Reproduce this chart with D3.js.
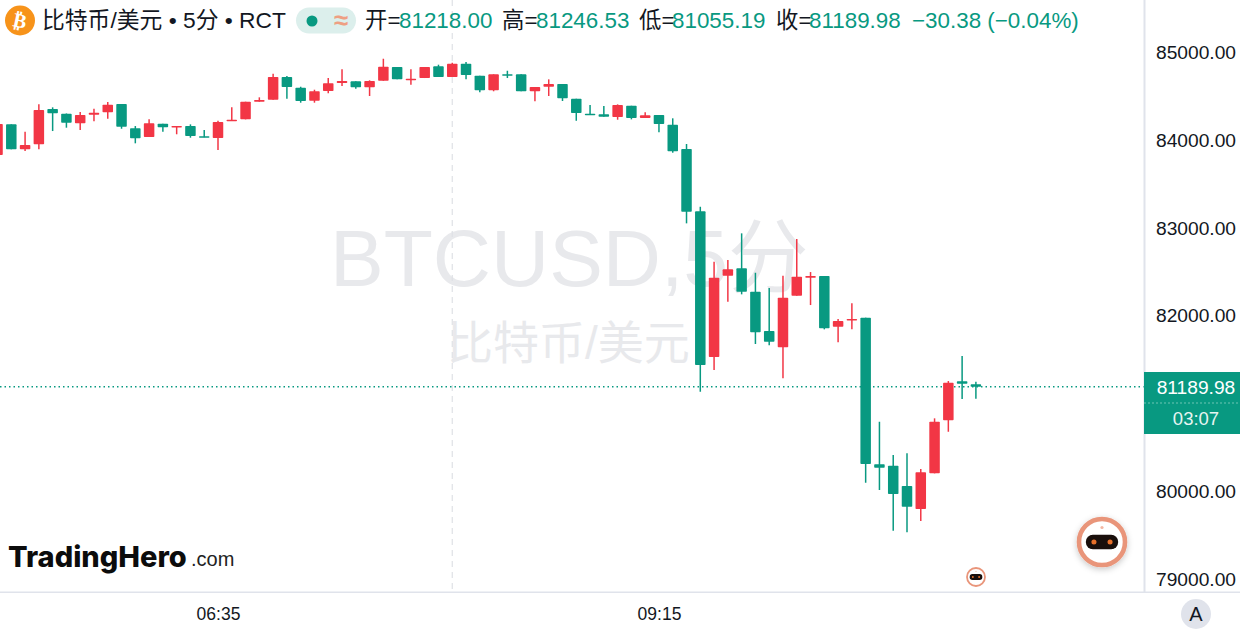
<!DOCTYPE html>
<html>
<head>
<meta charset="utf-8">
<title>BTCUSD</title>
<script src="https://cdn.jsdelivr.net/npm/d3@7"></script>
<style>
  html, body { margin: 0; padding: 0; background: #fff; overflow: hidden; }
  text { font-family: "Liberation Sans", "Noto Sans CJK SC", sans-serif; }
  .axis path, .axis line { display: none; }
  .axis text { font-family: "Liberation Sans", sans-serif; fill: #131722; }
</style>
</head>
<body>
<script>
// values, one entry per 5 minute bar starting 05:15
const opens = [83832,84181,83897,83954,84356,84302,84193,84291,84318,84413,84136,84037,84188,84147,84162,84045,84025,84222,84238,84439,84462,84721,84599,84450,84561,84652,84671,84603,84678,84834,84683,84709,84842,84721,84872,84735,84569,84751,84751,84558,84610,84641,84473,84302,84295,84265,84393,84253,84287,84177,83900,83190,81530,82456,82540,82274,81826,81640,82228,82433,82453,81875,81948,81978,80307,80291,80060,79797,80204,80808,81253,81218.00];
const highs = [84190,84181,84097,84409,84375,84305,84322,84359,84436,84413,84162,84238,84188,84162,84181,84116,84222,84375,84439,84489,84758,84732,84610,84576,84709,84808,84671,84683,84929,84834,84808,84834,84861,84883,84891,84735,84751,84792,84751,84607,84694,84641,84473,84401,84390,84409,84393,84318,84287,84250,83957,83242,82616,82635,82939,82490,82316,82456,82874,82498,82453,81963,82142,81978,80792,80413,80432,80253,80831,81256,81541,81246.53];
const lows = [83825,83897,83877,83897,84105,84143,84116,84216,84245,84131,83965,84037,84097,84068,84029,84033,83889,84222,84238,84439,84462,84473,84428,84428,84535,84618,84587,84504,84678,84694,84633,84709,84721,84721,84694,84546,84558,84709,84558,84444,84504,84447,84222,84291,84268,84234,84238,84253,84090,83858,83053,81134,81382,82160,82244,81678,81663,81287,82228,82122,81845,81697,81845,80097,80014,79550,79532,79661,80204,80678,81051,81055.19];
const closes = [84185,83897,83946,84344,84307,84200,84287,84314,84405,84154,84022,84193,84147,84162,84048,84033,84208,84234,84439,84458,84721,84607,84447,84558,84649,84675,84603,84675,84838,84694,84701,84834,84721,84872,84743,84569,84751,84735,84558,84607,84641,84478,84310,84291,84268,84401,84253,84284,84185,83874,83186,81438,82433,82529,82274,81811,81704,82206,82445,82453,81857,81940,81963,80310,80268,79968,79824,80216,80792,81237,81225,81189.98];

// 81000 is hidden by the price tag in the picture
const priceTicks = [85000, 84000, 83000, 82000, 80000, 79000];
const timeTicks = ["06:35", "09:15"];
const lastPrice = 81189.98;
const countdown = "03:07";
const crosshairBar = 33;

const w = 1240;
const h = 635;
const plotW = 1144;
const plotH = 592;
const green = "#089981";
const red = "#F23645";
const barWidth = 10.5;

const parseTime = d3.timeParse("%H:%M");
const start = parseTime("05:15");
const times = opens.map((d, i) => d3.timeMinute.offset(start, i * 5));

const x = d3.scaleTime()
  .domain([start, times[times.length - 1]])
  .range([-2.48, 975.9]);
const y = d3.scaleLinear()
  .domain([85000, 79000])
  .range([52.5, 579]);

const svg = d3.select("body").append("svg")
  .attr("width", w)
  .attr("height", h)
  .style("display", "block");

const defs = svg.append("defs");
const blur = defs.append("filter").attr("id", "soft").attr("x", "-30%").attr("y", "-30%").attr("width", "160%").attr("height", "160%");
blur.append("feDropShadow").attr("dx", 0).attr("dy", 2).attr("stdDeviation", 3).attr("flood-color", "#000").attr("flood-opacity", 0.22);

// watermark sits behind everything
svg.append("text").attr("x", 330).attr("y", 286)
  .attr("font-size", 80.5).attr("fill", "#e8e9ec")
  .text("BTCUSD,5分");
svg.append("text").attr("x", 447).attr("y", 359)
  .attr("font-size", 46).attr("fill", "#e8e9ec")
  .text("比特币/美元");

// crosshair
svg.append("line")
  .attr("x1", x(times[crosshairBar])).attr("x2", x(times[crosshairBar]))
  .attr("y1", 0).attr("y2", plotH)
  .attr("stroke", "#dfe1e6").attr("stroke-width", 1.2).attr("stroke-dasharray", "6 5");

// last price line
svg.append("line")
  .attr("x1", 0).attr("x2", plotW)
  .attr("y1", y(lastPrice)).attr("y2", y(lastPrice))
  .attr("stroke", green).attr("stroke-width", 1.5).attr("stroke-dasharray", "1.5 3");

// candles
const candles = svg.append("g").selectAll("g")
  .data(times)
  .join("g")
  .attr("fill", (d, i) => closes[i] >= opens[i] ? red : green)
  .attr("stroke", (d, i) => closes[i] >= opens[i] ? red : green);

candles.append("line")
  .attr("x1", d => x(d)).attr("x2", d => x(d))
  .attr("y1", (d, i) => y(highs[i]))
  .attr("y2", (d, i) => y(lows[i]))
  .attr("stroke-width", 1.5);

candles.append("rect")
  .attr("x", d => x(d) - barWidth / 2)
  .attr("width", barWidth)
  .attr("y", (d, i) => y(Math.max(opens[i], closes[i])))
  .attr("height", (d, i) => Math.max(1.5, Math.abs(y(opens[i]) - y(closes[i]))))
  .attr("rx", 0.8)
  .attr("stroke", "none");

// axes frame
svg.append("rect").attr("x", plotW - 0.5).attr("y", 0).attr("width", 2).attr("height", plotH).attr("fill", "#e0e3eb");
svg.append("rect").attr("x", 0).attr("y", plotH - 0.5).attr("width", w).attr("height", 1.5).attr("fill", "#e0e3eb");

const yAxis = d3.axisRight(y)
  .tickValues(priceTicks)
  .tickSize(0)
  .tickPadding(0)
  .tickFormat(d => d.toFixed(2));
svg.append("g")
  .attr("class", "axis")
  .attr("transform", "translate(1156,0)")
  .call(yAxis)
  .selectAll("text").attr("font-size", 19.2);

const xAxis = d3.axisBottom(x)
  .tickValues(timeTicks.map(parseTime))
  .tickSize(0)
  .tickPadding(0)
  .tickFormat(d3.timeFormat("%H:%M"));
svg.append("g")
  .attr("class", "axis")
  .attr("transform", "translate(0,608)")
  .call(xAxis)
  .selectAll("text").attr("font-size", 17.5);

// last price tag
svg.append("rect").attr("x", plotW).attr("y", 372).attr("width", w - plotW).attr("height", 62).attr("fill", green);
svg.append("line").attr("x1", plotW).attr("x2", w).attr("y1", 403).attr("y2", 403)
  .attr("stroke", "#6cc5b4").attr("stroke-width", 1).attr("stroke-dasharray", "2 2");
svg.append("text").attr("x", 1196).attr("y", 394).attr("text-anchor", "middle")
  .attr("font-size", 19.2).attr("fill", "#fff").text(lastPrice.toFixed(2));
svg.append("text").attr("x", 1196).attr("y", 425).attr("text-anchor", "middle")
  .attr("font-size", 18.5).attr("fill", "#e6f5f2").text(countdown);

// legend row
svg.append("circle").attr("cx", 20).attr("cy", 20.5).attr("r", 15).attr("fill", "#F7931A");
svg.append("text").attr("x", 20).attr("y", 27.5).attr("text-anchor", "middle")
  .attr("transform", "rotate(12 20 20.5)")
  .attr("font-size", 20).attr("font-weight", "bold").attr("fill", "#fff")
  .style("font-family", "DejaVu Sans").text("₿");

svg.append("text").attr("x", 42).attr("y", 28)
  .attr("font-size", 22.8).attr("fill", "#131722")
  .text("比特币/美元 • 5分 • RCT");

svg.append("rect").attr("x", 296).attr("y", 7.5).attr("width", 60).attr("height", 26).attr("rx", 13).attr("fill", "#dcefec");
svg.append("circle").attr("cx", 312).attr("cy", 21).attr("r", 5.5).attr("fill", green);
svg.append("text").attr("x", 341).attr("y", 29).attr("text-anchor", "middle")
  .attr("font-size", 26).attr("font-weight", "bold").attr("fill", "#ee9f83").text("≈");

const ohlc = svg.append("text").attr("y", 28).attr("font-size", 22.4);
const ohlcParts = [
  [365, "开=", "#131722"], [399, opens[71].toFixed(2), green],
  [502, "高=", "#131722"], [536, highs[71].toFixed(2), green],
  [639, "低=", "#131722"], [672, lows[71].toFixed(2), green],
  [776, "收=", "#131722"], [809, closes[71].toFixed(2), green],
  [912, "−30.38 (−0.04%)", green]
];
ohlc.selectAll("tspan").data(ohlcParts).join("tspan")
  .attr("x", d => d[0])
  .attr("fill", d => d[2])
  .text(d => d[1]);

// brand mark
svg.append("text").attr("x", 8).attr("y", 567)
  .attr("font-size", 29).attr("font-weight", 800).attr("fill", "#0c0c0c")
  .style("font-family", "Inter")
  .text("TradingHero");
svg.append("text").attr("x", 191).attr("y", 566)
  .attr("font-size", 20).attr("fill", "#222")
  .text(".com");

// robot badges
function robot(cx, cy, r) {
  const g = svg.append("g");
  g.append("circle").attr("cx", cx).attr("cy", cy).attr("r", r)
    .attr("fill", "#fff").attr("stroke", "#e9957a").attr("stroke-width", r * 0.2)
    .attr("filter", r > 15 ? "url(#soft)" : null);
  g.append("rect").attr("x", cx - r * 0.7).attr("y", cy - r * 0.32)
    .attr("width", r * 1.4).attr("height", r * 0.64).attr("rx", r * 0.3).attr("fill", "#1a0f0c");
  [-0.35, 0.35].forEach(k => {
    g.append("circle").attr("cx", cx + k * r).attr("cy", cy).attr("r", r * 0.11).attr("fill", "#e8702a");
  });
  g.append("circle").attr("cx", cx).attr("cy", cy - r * 0.63).attr("r", r * 0.07).attr("fill", "#f3b7a3");
}
robot(1102, 542, 23);
robot(976, 577, 9);

// auto scale button
svg.append("circle").attr("cx", 1196).attr("cy", 614).attr("r", 15).attr("fill", "#e0e3eb");
svg.append("text").attr("x", 1196).attr("y", 621).attr("text-anchor", "middle")
  .attr("font-size", 20).attr("fill", "#131722").text("A");
</script>
</body>
</html>
